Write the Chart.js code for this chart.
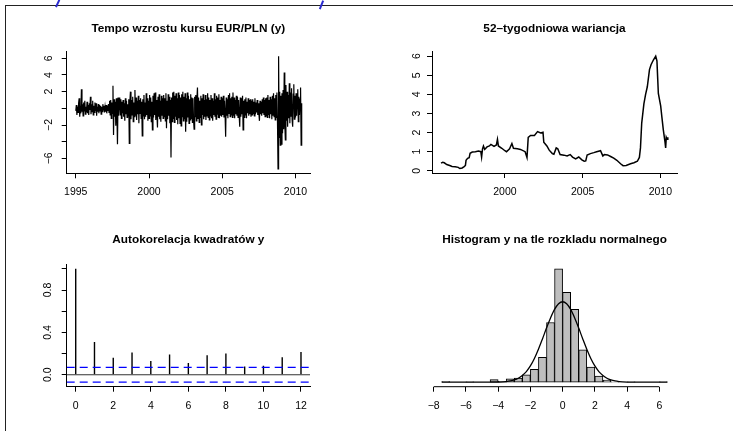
<!DOCTYPE html>
<html>
<head>
<meta charset="utf-8">
<script src="https://cdn.jsdelivr.net/npm/chart.js@4/dist/chart.umd.min.js"></script>
<style>
  html, body { margin: 0; padding: 0; background: #fff; }
  #page { position: relative; width: 733px; height: 431px; overflow: hidden; }
  #page canvas { position: absolute; left: 0; top: 0; }
  .frame { position: absolute; left: 5px; top: 5px; right: -2px; bottom: -2px; border-top: 1px solid #222; border-left: 1px solid #222; }
  .pen { position: absolute; width: 1.6px; background: #2b2bd0; transform-origin: bottom; }
</style>
</head>
<body>
<div id="page">
  <div class="frame"></div>
  <div class="pen" style="left:55px; top:-1px; height:8px; transform: rotate(25deg)"></div>
  <div class="pen" style="left:319px; top:0px; height:8.5px; transform: rotate(22deg)"></div>
  <canvas id="rate" width="733" height="431"></canvas>
  <canvas id="variance" width="733" height="431"></canvas>
  <canvas id="acf" width="733" height="431"></canvas>
  <canvas id="hist" width="733" height="431"></canvas>
</div>
<script>
const rateStart = 1995;
const ratePerYear = 26;
const rateValues = [
  -0.3, 0.4, -0.8, 0.2, -0.5, 0.6, 1.2, -1.0, 0.3, -0.6, 2.3, -0.4, 0.5, -0.9, 0.7, -0.3, 0.9, -0.7, 0.2, -0.5, 0.8, -0.6, 0.4, -0.8, 0.6, -0.2,
  1.4, -0.7, 0.5, -0.4, 0.9, -0.8, 0.3, -0.5, 0.7, -0.3, 0.6, -0.9, 0.2, -0.4, 0.5, -0.6, 0.4, -0.3, 0.3, -0.7, 0.2, -0.4, 0.5, -0.2, 0.3, -0.5,
  0.2, -0.4, 0.4, -0.6, 0.3, -0.3, 0.5, -0.5, 0.9, -0.8, 1.0, -1.2, 0.7, -0.6, 2.7, -3.2, 1.1, -1.0, 0.8, -2.1, 1.2, -0.7, -4.3, 1.3, -0.9, 0.6,
  1.3, -0.8, 1.1, -1.2, 0.8, -0.6, 1.0, -1.0, 0.6, -1.5, 1.2, -0.7, 0.9, -1.1, 0.5, -0.9, 1.1, -4.2, 0.8, 2.0, -1.3, 1.0, -0.8, 1.4, -1.6, 0.7,
  -1.0, 2.2, -0.9, 1.3, -1.4, 0.9, -0.7, 1.5, -1.8, 1.0, -0.6, 1.2, -1.2, 0.8, -3.3, 1.1, -0.9, 1.6, -1.3, 0.7, -1.0, 1.8, -0.8, 1.2, -1.5, 0.9,
  -1.2, 1.6, -0.9, 1.3, -1.6, 0.8, -2.6, 1.5, -1.1, 1.8, -0.8, 1.9, -1.4, 1.0, -0.7, -2.3, 1.4, -1.0, 1.7, -1.3, 0.9, -1.6, 1.5, -0.9, 1.2, -1.2,
  1.6, -1.0, 1.2, -1.5, 1.8, -2.4, 0.9, -1.3, 1.7, -0.9, 1.4, -1.8, 1.0, -5.9, 1.3, -1.6, 1.9, -1.2, 2.0, -1.7, 1.5, -1.0, 1.8, -1.4, 1.2, -1.9,
  1.9, -1.2, 1.6, -1.8, 1.3, -2.1, 1.7, -1.0, 2.0, -1.5, 1.4, -1.3, 1.8, -2.8, 1.2, -1.6, 1.9, -1.1, 1.5, -1.8, 1.1, -1.4, 1.7, -1.2, 1.3, -1.7,
  1.2, -1.3, -2.5, 1.4, -1.0, 1.6, -1.5, 1.1, 2.5, -1.2, 1.3, -1.7, 0.9, -1.1, 1.5, -2.0, 1.2, -0.8, 1.7, -1.3, 1.0, -1.0, 1.6, -1.4, 1.1, -0.9,
  1.8, -1.1, 1.3, -1.4, 1.0, -0.9, 1.6, -1.2, 1.2, -1.5, 0.9, -0.8, 1.8, -1.0, 1.1, -1.3, 1.5, -0.7, 1.3, -1.1, 1.7, -1.2, 1.0, -0.9, 1.4, -1.0,
  1.2, -0.8, 1.5, -1.1, 0.9, -0.7, -3.4, 1.3, -0.9, 1.1, -1.2, 1.6, -0.6, 1.8, -1.0, 1.2, -0.8, 1.4, -1.1, 1.9, -0.9, 1.3, -1.2, 1.0, -0.7, 1.5,
  -0.9, 1.4, -1.1, 1.0, -0.8, -2.2, 1.3, -1.0, 1.2, -0.7, 1.5, -2.6, 0.9, -1.1, 1.1, -0.8, 1.3, -1.2, 0.8, -0.6, 1.2, -0.9, 1.0, -0.7, 1.1, -1.0,
  0.9, -0.8, 1.1, -0.6, 0.8, -0.9, 1.2, -0.7, 0.7, -0.5, 1.0, -0.8, 0.6, -0.6, -1.5, 0.9, -0.7, 0.8, -0.9, 1.1, -0.6, 1.3, -0.8, 1.0, -1.0, 1.2,
  -0.9, 1.3, -1.1, 1.6, -0.8, 1.0, -1.2, 1.4, -0.7, 1.1, -1.3, 1.5, -0.9, 1.8, -1.0, 1.2, -1.4, 1.6, -1.1, 1.9, -1.5, -7.25, 6.25, -3.5, 2.0, -4.4,
  1.5, -4.3, 1.8, -3.0, 2.2, -2.5, 4.3, -1.8, -3.8, 2.8, -1.5, 2.0, -2.2, 1.6, -1.2, 3.0, -1.8, 1.9, -1.0, 2.4, -1.4, -2.2, 1.7, 2.9, -1.3, 1.5,
  -1.1, 1.8, -0.9, 1.2, 2.3, -1.6, 1.4, -0.8, 1.1, 2.5, -4.4, 0.6
];
const rateXTicks = [1995, 2000, 2005, 2010];
const rateYTicks = [-6, -4, -2, 0, 2, 4, 6];
const rateYLabels = ['\u22126', '', '\u22122', '', '2', '4', '6'];

// 52-week rolling variance
const varYears = [
  1995.89, 1996.0, 1996.1, 1996.26, 1996.45, 1996.6, 1996.8, 1997.0, 1997.1, 1997.25, 1997.38, 1997.46,
  1997.5, 1997.6, 1997.7, 1997.76, 1997.9, 1998.1, 1998.3, 1998.45, 1998.5, 1998.56, 1998.62, 1998.7,
  1998.85, 1999.0, 1999.1, 1999.3, 1999.45, 1999.52, 1999.58, 1999.8, 2000.0, 2000.1, 2000.3, 2000.45,
  2000.55, 2000.8, 2001.0, 2001.3, 2001.42, 2001.5, 2001.65, 2001.9, 2002.1, 2002.3, 2002.45, 2002.5,
  2002.7, 2002.85, 2003.05, 2003.15, 2003.3, 2003.4, 2003.55, 2003.8, 2004.0, 2004.2, 2004.35, 2004.55,
  2004.75, 2004.95, 2005.1, 2005.2, 2005.29, 2005.5, 2005.72, 2005.9, 2006.15, 2006.3, 2006.4, 2006.6,
  2006.8, 2007.0, 2007.2, 2007.44, 2007.6, 2007.8, 2008.08, 2008.3, 2008.52, 2008.65, 2008.72, 2008.8,
  2008.94, 2009.05, 2009.16, 2009.3, 2009.4, 2009.55, 2009.7, 2009.78, 2009.83, 2009.87, 2010.02, 2010.1,
  2010.19, 2010.3, 2010.34, 2010.38, 2010.43, 2010.48
];
const varValues = [
  0.40, 0.45, 0.42, 0.33, 0.28, 0.23, 0.21, 0.18, 0.12, 0.15, 0.22, 0.28,
  0.55, 0.65, 0.68, 0.92, 0.98, 1.00, 1.03, 1.00, 0.72, 1.15, 1.30, 1.12,
  1.25, 1.30, 1.38, 1.28, 1.35, 1.65, 1.30, 1.18, 1.05, 1.00, 1.15, 1.43,
  1.18, 1.15, 1.12, 1.00, 0.70, 1.75, 1.85, 1.85, 2.05, 1.98, 2.02, 1.50,
  1.30, 1.08, 0.90, 0.87, 1.20, 1.15, 0.85, 0.82, 0.78, 0.85, 0.72, 0.62,
  0.72, 0.57, 0.50, 0.52, 0.83, 0.90, 0.95, 1.00, 1.05, 0.78, 0.85, 0.83,
  0.75, 0.66, 0.55, 0.37, 0.27, 0.28, 0.37, 0.42, 0.50, 0.70, 1.20, 2.50,
  3.50, 4.00, 4.40, 5.30, 5.55, 5.80, 6.00, 5.75, 4.80, 4.05, 3.40, 2.80,
  2.14, 1.50, 1.20, 1.75, 1.65, 1.75
];
const varXTicks = [2000, 2005, 2010];
const varYTicks = [0, 1, 2, 3, 4, 5, 6];

// autocorrelation of squared y
const acfLags = [0, 1, 2, 3, 4, 5, 6, 7, 8, 9, 10, 11, 12];
const acfValues = [1.0, 0.31, 0.16, 0.21, 0.13, 0.19, 0.11, 0.185, 0.20, 0.078, 0.084, 0.165, 0.215];
const acfLimit = 0.069;
const acfXTicks = [0, 2, 4, 6, 8, 10, 12];
const acfYTicks = [0, 0.2, 0.4, 0.6, 0.8, 1.0];
const acfYLabels = ['0.0', '', '0.4', '', '0.8', ''];

// histogram (density) and the normal curve over it
const histMids = [-7.25, -6.75, -6.25, -5.75, -5.25, -4.75, -4.25, -3.75, -3.25, -2.75, -2.25, -1.75, -1.25, -0.75,
  -0.25, 0.25, 0.75, 1.25, 1.75, 2.25, 2.75, 3.25, 3.75, 4.25, 4.75, 5.25, 5.75, 6.25];
const histDensity = [0.003, 0, 0, 0.002, 0, 0, 0.012, 0.004, 0.015, 0.018, 0.033, 0.057, 0.110, 0.265,
  0.503, 0.399, 0.323, 0.144, 0.067, 0.027, 0.009, 0.002, 0, 0.002, 0, 0, 0, 0.002];
const normalX = [-7.5, -5, -4.5, -4, -3.5, -3.25, -3, -2.75, -2.5, -2.25, -2, -1.75, -1.5, -1.25, -1, -0.75, -0.5, -0.25,
  0, 0.25, 0.5, 0.75, 1, 1.25, 1.5, 1.75, 2, 2.25, 2.5, 2.75, 3, 3.25, 3.5, 4, 4.5, 5, 6.5];
const normalY = [0, 0, 0.0001, 0.0006, 0.0027, 0.0053, 0.0099, 0.0175, 0.030, 0.047, 0.072, 0.105, 0.146, 0.192, 0.240, 0.285, 0.323, 0.348,
  0.357, 0.348, 0.323, 0.285, 0.240, 0.192, 0.146, 0.105, 0.072, 0.047, 0.030, 0.0175, 0.0099, 0.0053, 0.0027, 0.0006, 0.0001, 0, 0];
const histXTicks = [-8, -6, -4, -2, 0, 2, 4, 6];

const FAMILY = '"Liberation Sans", Arimo, Arial, Helvetica, sans-serif';
const tickFont = { family: FAMILY, size: 10.5 };
const titleFont = { family: FAMILY, size: 11.8, weight: 'bold' };
const W = 733, H = 431;
const AXIS_W = 40, AXIS_H = 30;

const minus = (v) => (v < 0 ? '\u2212' + Math.abs(v) : String(v));

function xAxis(min, max, ticks, labels) {
  return {
    type: 'linear', min, max, offset: false,
    afterFit: (s) => { s.height = AXIS_H; },
    afterBuildTicks: (s) => { s.ticks = ticks.map((v) => ({ value: v })); },
    ticks: { callback: (v, i) => labels[i], autoSkip: false, minRotation: 0, maxRotation: 0, padding: 8, font: tickFont, color: '#000' },
    grid: { display: true, drawOnChartArea: false, offset: false, tickLength: 5, color: '#000', lineWidth: 1 },
    border: { display: true, color: '#000', width: 1 },
  };
}

function yAxis(min, max, ticks, labels, pad) {
  return {
    type: 'linear', min, max,
    afterFit: (s) => { s.width = AXIS_W; },
    afterBuildTicks: (s) => { s.ticks = ticks.map((v) => ({ value: v })); },
    ticks: { callback: (v, i) => labels[i], autoSkip: false, minRotation: 90, maxRotation: 90, crossAlign: 'center', padding: pad, font: tickFont, color: '#000' },
    grid: { display: true, drawOnChartArea: false, tickLength: 5, color: '#000', lineWidth: 1 },
    border: { display: true, color: '#000', width: 1 },
  };
}

// plot area in page pixels -> layout padding, title placed at centre y
function frame(area, titleY, hasYAxis) {
  const lh = titleFont.size * 1.2;
  const top = titleY - lh / 2;
  return {
    padding: {
      left: area.left - (hasYAxis ? AXIS_W : 0),
      right: W - area.right,
      top: top,
      bottom: H - area.bottom - AXIS_H,
    },
    titlePad: { top: 0, bottom: area.top - top - lh },
  };
}

function title(text, f) {
  return { display: true, text, font: titleFont, color: '#000', fullSize: false, padding: f.titlePad };
}

const base = { responsive: false, animation: false, devicePixelRatio: 1, events: [] };

// top left: growth rate
const f1 = frame({ left: 66.7, top: 51.7, right: 310, bottom: 173.3 }, 29, true);
new Chart(document.getElementById('rate'), {
  type: 'line',
  data: {
    datasets: [{
      data: rateValues.map((v, i) => ({ x: rateStart + i / ratePerYear, y: v })),
      borderColor: '#000', borderWidth: 1.2, pointRadius: 0, tension: 0,
    }],
  },
  options: {
    ...base,
    layout: { padding: f1.padding },
    plugins: { legend: { display: false }, tooltip: { enabled: false }, title: title('Tempo wzrostu kursu EUR/PLN (y)', f1) },
    scales: {
      x: xAxis(1994.38, 2010.99, rateXTicks, rateXTicks.map(String)),
      y: yAxis(-7.79, 6.79, rateYTicks, rateYLabels, 6.4),
    },
  },
});

// top right: rolling variance
const f2 = frame({ left: 432, top: 51.7, right: 677, bottom: 173 }, 29, true);
new Chart(document.getElementById('variance'), {
  type: 'line',
  data: {
    datasets: [{
      data: varYears.map((x, i) => ({ x, y: varValues[i] })),
      borderColor: '#000', borderWidth: 1.5, pointRadius: 0, tension: 0,
    }],
  },
  options: {
    ...base,
    layout: { padding: f2.padding },
    plugins: { legend: { display: false }, tooltip: { enabled: false }, title: title('52\u2013tygodniowa wariancja', f2) },
    scales: {
      x: xAxis(1995.31, 2011.07, varXTicks, varXTicks.map(String)),
      y: yAxis(-0.115, 6.235, varYTicks, varYTicks.map(String), 7),
    },
  },
});

// bottom left: ACF of y^2
const acfXMin = -0.48, acfXMax = 12.48;
const f3 = frame({ left: 66.7, top: 264.3, right: 310, bottom: 386.7 }, 239.5, true);
new Chart(document.getElementById('acf'), {
  type: 'bar',
  data: {
    datasets: [
      {
        type: 'line',
        data: [{ x: acfXMin, y: 0 }, { x: acfXMax, y: 0 }],
        borderColor: '#333', borderWidth: 1.2, pointRadius: 0,
      },
      {
        type: 'line',
        data: [{ x: acfXMin, y: acfLimit }, { x: acfXMax, y: acfLimit }],
        borderColor: '#0000ff', borderWidth: 1.2, borderDash: [8, 5], pointRadius: 0,
      },
      {
        type: 'line',
        data: [{ x: acfXMin, y: -acfLimit }, { x: acfXMax, y: -acfLimit }],
        borderColor: '#0000ff', borderWidth: 1.2, borderDash: [8, 5], pointRadius: 0,
      },
      {
        type: 'bar',
        data: acfLags.map((l, i) => ({ x: l, y: acfValues[i] })),
        backgroundColor: '#000', borderWidth: 0, barThickness: 1.4, inflateAmount: 0, grouped: false,
      },
    ],
  },
  options: {
    ...base,
    layout: { padding: f3.padding },
    plugins: { legend: { display: false }, tooltip: { enabled: false }, title: title('Autokorelacja kwadrat\u00f3w y', f3) },
    scales: {
      x: xAxis(acfXMin, acfXMax, acfXTicks, acfXTicks.map(String)),
      y: yAxis(-0.113, 1.043, acfYTicks, acfYLabels, 6),
    },
  },
});

// bottom right: histogram with normal density
const histYMin = -0.0201, histYMax = 0.5231;
const f4 = frame({ left: 432.7, top: 264.3, right: 676.4, bottom: 386.7 }, 240, false);
const histX = xAxis(-8.06, 7.06, histXTicks, histXTicks.map(minus));
histX.border = { display: false };
new Chart(document.getElementById('hist'), {
  type: 'bar',
  data: {
    datasets: [
      {
        type: 'line',
        data: normalX.map((x, i) => ({ x, y: normalY[i] })),
        borderColor: '#000', borderWidth: 1.3, pointRadius: 0, cubicInterpolationMode: 'monotone', clip: false,
      },
      {
        type: 'line',
        data: [{ x: histXTicks[0], y: histYMin }, { x: histXTicks[histXTicks.length - 1], y: histYMin }],
        borderColor: '#000', borderWidth: 1, pointRadius: 0, clip: false,
      },
      {
        type: 'bar',
        data: histMids.map((x, i) => ({ x, y: histDensity[i] })),
        backgroundColor: '#bebebe', borderColor: '#000', borderWidth: 1, borderSkipped: false,
        barPercentage: 1, categoryPercentage: 1, grouped: false,
      },
    ],
  },
  options: {
    ...base,
    layout: { padding: f4.padding },
    plugins: { legend: { display: false }, tooltip: { enabled: false }, title: title('Histogram y na tle rozkladu normalnego', f4) },
    scales: {
      x: histX,
      y: { type: 'linear', display: false, min: histYMin, max: histYMax },
    },
  },
});
</script>
</body>
</html>
